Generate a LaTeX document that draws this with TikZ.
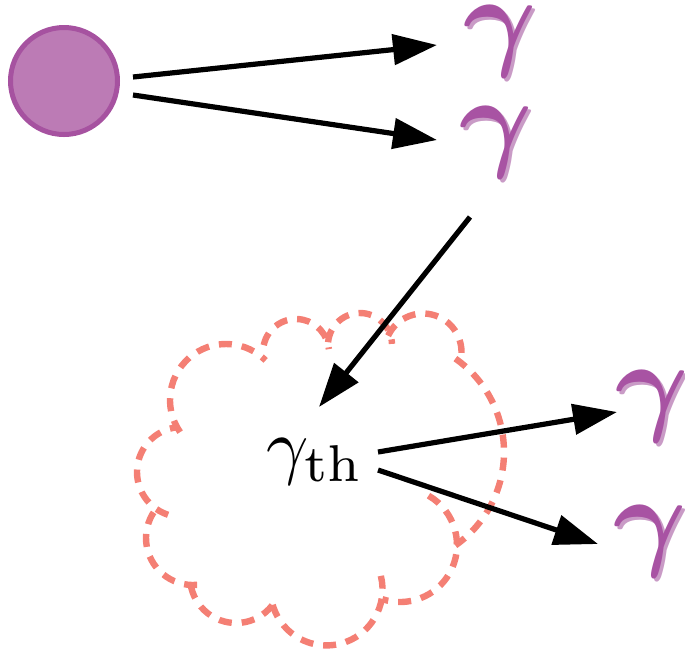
\documentclass[tikz,border=0pt]{standalone}
\usepackage{amsmath}
\usepackage{graphicx}
\usetikzlibrary{arrows.meta,calc}
\definecolor{pfill}{HTML}{BC7BB5}
\definecolor{pdraw}{HTML}{A652A0}
\definecolor{gmain}{HTML}{A853A3}
\definecolor{gshade}{HTML}{C99BC6}
\definecolor{cloudc}{HTML}{F47F74}
\newcommand{\photgamma}{\scalebox{5.6}{$\boldsymbol{\gamma}$}}
\begin{document}
\begin{tikzpicture}[x=0.5pt,y=-0.5pt,
  arr/.style={line width=2.6pt,-{Triangle[length=22pt,width=15pt]}},
  puff/.style={draw=cloudc,line width=3.2pt,dash pattern=on 6.5pt off 5pt},
  phot/.style={text=gmain,inner sep=0pt,text height=24pt,text depth=12pt},
  photsh/.style={text=gshade,inner sep=0pt,text height=24pt,text depth=12pt}]
\useasboundingbox (0,0) rectangle (685,650);
% cloud (union of puffs)
\draw[puff] ([shift={(226,400)}]145:56) arc[start angle=145,end angle=315,radius=56];
\draw[puff] ([shift={(296,352)}]192:33) arc[start angle=192,end angle=355,radius=33];
\draw[puff] ([shift={(360,345)}]185:32) arc[start angle=185,end angle=358,radius=32];
\draw[puff] ([shift={(423,352)}]205:38.5) arc[start angle=205,end angle=375,radius=38.5];
\draw[puff] ([shift={(390,452)}]305:114) arc[start angle=305,end angle=415,radius=114];
\draw[puff] ([shift={(400,545)}]-60:57) arc[start angle=-60,end angle=108,radius=57];
\draw[puff] ([shift={(326.5,589.4)}]-14:56) arc[start angle=-14,end angle=168,radius=56];
\draw[puff] ([shift={(236,577)}]38:46) arc[start angle=38,end angle=172,radius=46];
\draw[puff] ([shift={(193,538)}]85:47) arc[start angle=85,end angle=222,radius=47];
\draw[puff] ([shift={(182,472)}]108:45) arc[start angle=108,end angle=262,radius=45];
% source particle
\node[circle,draw=pdraw,fill=pfill,line width=2.5pt,minimum size=53.5pt,inner sep=0pt] (src) at (64,81) {};
% photons
\node[photsh] (g1s) at (503,46) {\photgamma};
\node[phot] (g1) at (500,43) {\photgamma};
\node[photsh] (g2s) at (499,147) {\photgamma};
\node[phot] (g2) at (496,144) {\photgamma};
\node[photsh] (g3s) at (655,411) {\photgamma};
\node[phot] (g3) at (652,408) {\photgamma};
\node[photsh] (g4s) at (653,546) {\photgamma};
\node[phot] (g4) at (650,543) {\photgamma};
% thermal photon
\node[anchor=base west,inner sep=0pt] (gth) at (266,470) {\scalebox{3.7}{$\gamma_{\mathrm{th}}$}};
% arrows
\draw[arr] ($(src)+(69,-4)$) -- ($(g1)+(-63,2)$);
\draw[arr] ($(src)+(69,14)$) -- ($(g2)+(-59,-4)$);
\draw[arr] ($(g2)+(-26,73)$) -- ($(gth.base west)+(53,-63)$);
\draw[arr] ($(gth.base west)+(112,-18)$) -- ($(g3)+(-35,4)$);
\draw[arr] ($(gth.base west)+(112,0)$) -- ($(g4)+(-52,1)$);
\end{tikzpicture}
\end{document}
